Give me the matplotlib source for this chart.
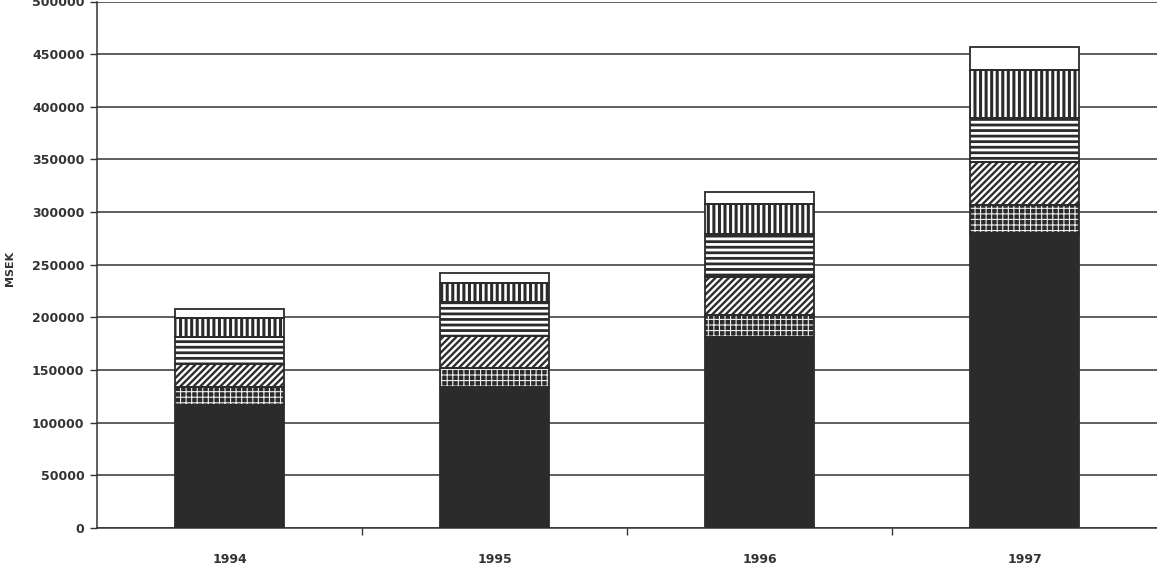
import matplotlib
matplotlib.use("Agg")
import matplotlib.pyplot as plt
import numpy as np

years = ["1994", "1995", "1996", "1997"]

# stacked segments, bottom to top (MSEK)
seg_solid = [116700, 134100, 181500, 280000]
seg_cross = [17100, 17700, 20600, 26500]
seg_diag = [21800, 30400, 36300, 41100]
seg_horiz = [25600, 32500, 40600, 42100]
seg_vert = [18000, 18000, 29100, 45500]
seg_white = [8600, 9500, 11000, 21500]

yticks = [0, 50000, 100000, 150000, 200000, 250000, 300000, 350000, 400000, 450000, 500000]

plt.rcParams["font.family"] = ["DejaVu Sans"]

fig = plt.figure(figsize=(11.57, 5.64), dpi=100)
ax = fig.add_axes([97 / 1157, 36 / 564, 1060 / 1157, 526.5 / 564])

dark = "#2b2b2b"
x = np.arange(len(years))
w = 0.41

# (values, face colour, hatch, hatch colour, hatch linewidth)
layers = [
    (seg_solid, dark, None, dark, 1.0),
    (seg_cross, dark, "+++", "#eeeeee", 0.8),
    (seg_diag, "white", "/////", "#2e2e2e", 1.7),
    (seg_horiz, "white", "---", dark, 2.0),
    (seg_vert, "white", "|||", dark, 2.2),
    (seg_white, "white", None, dark, 1.0),
]

bottom = np.zeros(len(years))
for vals, face, hatch, hcol, hlw in layers:
    vals = np.array(vals, dtype=float)
    with plt.rc_context({"hatch.linewidth": hlw}):
        bars = ax.bar(x, vals, w, bottom=bottom, color=face, edgecolor=hcol,
                      hatch=hatch, linewidth=0, zorder=3)
    for b in bars:
        if hasattr(b, "set_hatch_linewidth"):
            b.set_hatch_linewidth(hlw)
    ax.bar(x, vals, w, bottom=bottom, facecolor="none",
           edgecolor=dark, linewidth=1.3, zorder=4)
    bottom += vals

ax.set_xlim(-0.5, 3.5)
ax.set_ylim(0, 500000)
ax.set_yticks(yticks)
ax.set_yticklabels([str(v) for v in yticks], fontsize=9, color="#333333",
                   fontweight="bold")
ax.set_xticks(x)
ax.set_xticklabels(years, fontsize=9, color="#333333", fontweight="bold")
ax.set_xticks([0.5, 1.5, 2.5], minor=True)
ax.tick_params(axis="x", which="major", length=0, pad=18)
ax.tick_params(axis="x", which="minor", length=5, width=1, color="#333333",
               direction="out")
ax.tick_params(axis="y", length=5, width=1, color="#333333", direction="out",
               pad=4)

ax.yaxis.grid(True, color="#333333", linewidth=1.1)
ax.set_axisbelow(True)
for side in ["top", "right"]:
    ax.spines[side].set_visible(False)
for side in ["left", "bottom"]:
    ax.spines[side].set_color("#333333")
    ax.spines[side].set_linewidth(1.1)

fig.text(10 / 1157, 1 - 268 / 564, "MSEK", rotation=90, fontsize=8,
         color="#333333", ha="center", va="center", fontweight="bold",
         family="Liberation Sans Narrow")

fig.savefig("out.png", dpi=100)
